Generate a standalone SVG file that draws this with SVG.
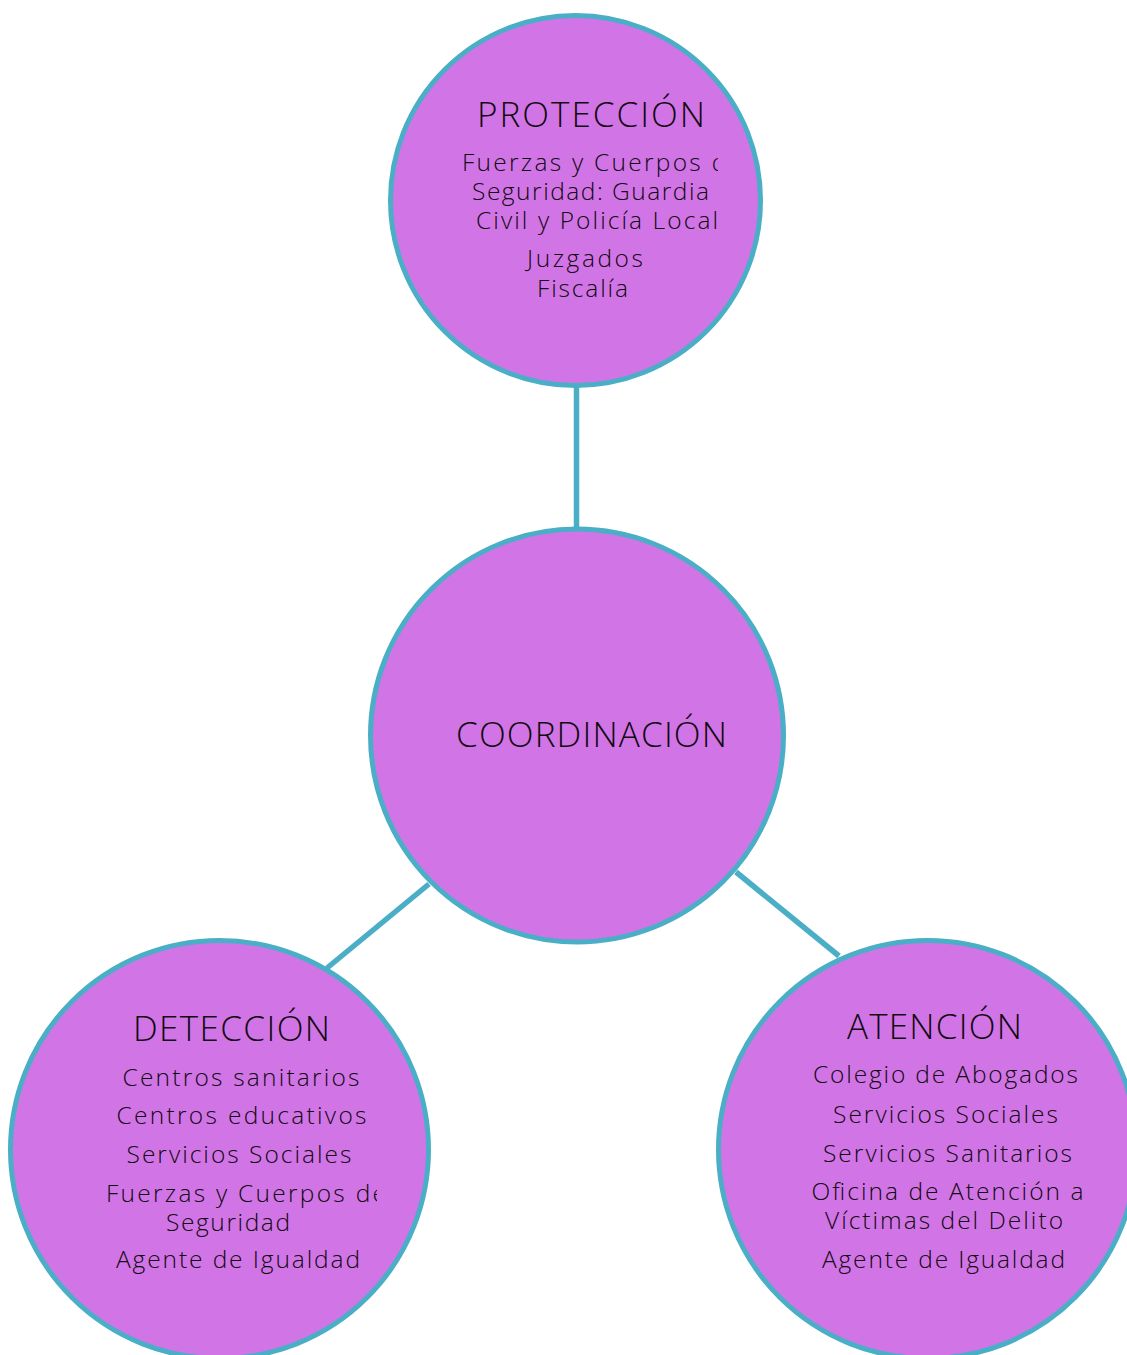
<svg xmlns="http://www.w3.org/2000/svg" width="1127" height="1355" viewBox="0 0 1127 1355">
<style>
.node{fill:#D175E6;stroke:#4BAEC7;stroke-width:5}
.edge{stroke:#4BAEC7;stroke-width:5.5;fill:none}
.t{font-family:"Open Sans","Liberation Sans",sans-serif;font-weight:300;fill:#120812}
.h{font-size:35px}
.b{font-size:24.5px}
</style>
<defs>
<clipPath id="clipTop"><rect x="0" y="0" width="718" height="1355"/></clipPath>
<clipPath id="clipLeft"><rect x="0" y="0" width="377" height="1355"/></clipPath>
</defs>
<rect width="1127" height="1355" fill="#ffffff"/>
<g id="connectors">
<line class="edge" x1="576.5" y1="386" x2="576.5" y2="530"/>
<line class="edge" x1="429" y1="884" x2="327" y2="968"/>
<line class="edge" x1="736" y1="872" x2="839" y2="956"/>
</g>
<g id="proteccion">
<circle class="node" cx="575.5" cy="200.5" r="185"/>
<text class="t h" x="477" y="127" textLength="228">PROTECCIÓN</text>
<g clip-path="url(#clipTop)">
<text class="t b" x="462" y="171" textLength="280">Fuerzas y Cuerpos de</text>
</g>
<text class="t b" x="472" y="200" textLength="237">Seguridad: Guardia</text>
<text class="t b" x="476" y="229" textLength="242">Civil y Policía Local</text>
<text class="t b" x="527" y="267" textLength="116">Juzgados</text>
<text class="t b" x="537" y="297" textLength="91">Fiscalía</text>
</g>
<g id="coordinacion">
<circle class="node" cx="577" cy="735.5" r="206.5"/>
<text class="t h" x="456" y="747" textLength="271">COORDINACIÓN</text>
</g>
<g id="deteccion">
<circle class="node" cx="219.5" cy="1149.5" r="209"/>
<text class="t h" x="133" y="1041" textLength="197">DETECCIÓN</text>
<text class="t b" x="122.5" y="1086" textLength="237">Centros sanitarios</text>
<text class="t b" x="116.5" y="1124" textLength="250">Centros educativos</text>
<text class="t b" x="126.5" y="1163" textLength="225">Servicios Sociales</text>
<g clip-path="url(#clipLeft)">
<text class="t b" x="106" y="1202" textLength="280">Fuerzas y Cuerpos de</text>
</g>
<text class="t b" x="166" y="1231" textLength="124">Seguridad</text>
<text class="t b" x="116" y="1268" textLength="244">Agente de Igualdad</text>
</g>
<g id="atencion">
<circle class="node" cx="927.5" cy="1149.5" r="209"/>
<text class="t h" x="847" y="1039" textLength="175">ATENCIÓN</text>
<text class="t b" x="813" y="1083" textLength="265">Colegio de Abogados</text>
<text class="t b" x="833" y="1123" textLength="225">Servicios Sociales</text>
<text class="t b" x="823" y="1162" textLength="249">Servicios Sanitarios</text>
<text class="t b" x="811.5" y="1200" textLength="272">Oficina de Atención a</text>
<text class="t b" x="825" y="1229" textLength="238">Víctimas del Delito</text>
<text class="t b" x="822" y="1268" textLength="243">Agente de Igualdad</text>
</g>
</svg>
